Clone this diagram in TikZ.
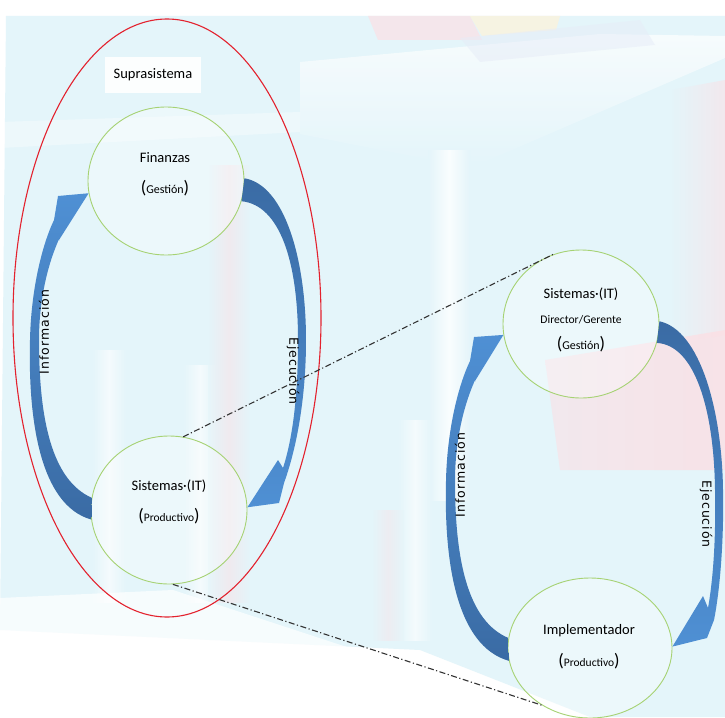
\documentclass[tikz,border=0pt]{standalone}
\usepackage{fontspec}
\setmainfont{Carlito}
\newfontfamily\lblfont{DejaVu Sans}[LetterSpace=8]
\usetikzlibrary{shapes.geometric}

\definecolor{sysgreen}{HTML}{A6D273}
\definecolor{supred}{HTML}{E3222E}
\definecolor{arrowlight}{HTML}{4F90D4}
\definecolor{arrowdark}{HTML}{3A6BA4}
\definecolor{bgcyan}{HTML}{E4F5FA}
\definecolor{bgpink}{HTML}{FBE0E5}
\definecolor{bgyellow}{HTML}{FBF3DC}
\definecolor{bglav}{HTML}{E6ECF8}
\definecolor{linegray}{HTML}{333333}

% enlarged round brackets around a smaller word
\newcommand\prn[1]{{\fontsize{18}{18}\selectfont(}#1{\fontsize{18}{18}\selectfont)}}

\begin{document}
\begin{tikzpicture}[x=1pt,y=-1pt,
  sys/.style={ellipse, draw=sysgreen, line width=0.9pt, fill=white, fill opacity=0.3,
    text opacity=1, minimum width=156pt, minimum height=148pt, inner sep=0pt},
  supra/.style={ellipse, draw=supred, line width=1.1pt, minimum width=308pt,
    minimum height=598pt, inner sep=0pt},
  maintxt/.style={anchor=base, font=\fontsize{14.5}{16}\selectfont},
  subtxt/.style={anchor=base, font=\fontsize{12}{14}\selectfont},
  lbl/.style={font=\lblfont\fontsize{12.5}{14}\selectfont, inner sep=0pt},
  upflow/.style={top color=arrowlight, bottom color=arrowdark},
  downflow/.style={top color=arrowdark, bottom color=arrowlight},
  link/.style={draw=linegray, line width=1.1pt,
    dash pattern=on 6pt off 2.5pt on 1.2pt off 2.5pt},
  softbar/.style={left color=bgcyan, right color=bgcyan, middle color=#1}
]
\useasboundingbox (0,0) rectangle (725,717);

% ---- faded backdrop: a box with bar charts ----
\fill[white] (0,0) rectangle (725,717);
\fill[bgcyan] (6,16) -- (725,16) -- (725,717) -- (590,717) -- (420,650) -- (0,630) -- cycle;
\fill[white, opacity=0.35] (0,122) -- (300,112) -- (300,132) -- (0,148) -- cycle;
\shade[top color=white, bottom color=bgcyan, opacity=0.7]
  (300,62) -- (600,34) -- (725,36) -- (725,58) -- (470,168) -- (432,160) -- (300,134) -- cycle;
\fill[bgpink, opacity=0.7] (368,16) -- (470,16) -- (482,40) -- (378,40) -- cycle;
\fill[bgyellow, opacity=0.8] (470,16) -- (560,16) -- (556,30) -- (482,36) -- cycle;
\fill[bglav, opacity=0.5] (460,38) -- (640,20) -- (655,45) -- (480,62) -- cycle;
\shade[left color=bgcyan, right color=bgpink, opacity=0.6] (670,90) -- (725,80) -- (725,335) -- (670,345) -- cycle;
\shade[left color=bgpink!70!bgcyan, right color=bgpink, opacity=0.85] (545,360) -- (725,330) -- (725,470) -- (560,470) -- cycle;
\shade[softbar=white, opacity=0.8] (428,150) rectangle (470,500);
\shade[softbar=white, opacity=0.6] (92,350) rectangle (126,602);
\shade[softbar=white, opacity=0.6] (183,365) rectangle (217,602);
\shade[softbar=white, opacity=0.6] (398,420) rectangle (432,640);
\shade[softbar=bgpink, opacity=0.5] (208,165) rectangle (250,602);
\shade[softbar=bgpink, opacity=0.4] (372,510) rectangle (404,640);
\fill[white, opacity=0.7] (0,598) -- (173,590) -- (560,717) -- (0,717) -- cycle;

% ---- enclosing system and its label ----
\node[supra] (supra) at (167,318) {};
\node[fill=white, fill opacity=0.9, text opacity=1, minimum width=96pt, minimum height=36pt,
  font=\fontsize{14.5}{16}\selectfont] (supratxt) at (153,75) {Suprasistema};

% ---- subsystems ----
\node[sys] (fin)  at (166,181) {};
\node[sys] (prod) at (169,510) {};
\node[sys] (dir)  at (581,324) {};
\node[sys, minimum width=164pt, minimum height=140pt] (impl) at (590,648) {};

\node[maintxt] (fin1) at (165,162) {Finanzas};
\node[subtxt]  (fin2) at (165,193) {\prn{Gestión}};
\node[maintxt] (prod1) at (169,490) {Sistemas·(IT)};
\node[subtxt, font=\fontsize{11.5}{14}\selectfont] (prod2) at (169,521) {\prn{Productivo}};
\node[maintxt] (dir1) at (581,298) {Sistemas·(IT)};
\node[subtxt, font=\fontsize{11.6}{14}\selectfont] (dir2) at (581,323) {Director/Gerente};
\node[subtxt]  (dir3) at (581,349) {\prn{Gestión}};
\node[maintxt] (impl1) at (589,634) {Implementador};
\node[subtxt, font=\fontsize{11.5}{14}\selectfont] (impl2) at (589,666) {\prn{Productivo}};

% ---- curved block arrows, left cycle ----
\path[upflow] (prod.187) .. controls (40,505) and (28,420) .. (30,340)
  .. controls (31,290) and (42,245) .. (54,220)
  -- (58,196) -- (fin.189) -- (59,240) -- (64,229)
  .. controls (50,255) and (39,295) .. (39,340)
  .. controls (39,420) and (52,480) .. (prod.171) -- cycle;
\path[downflow] (fin.2) .. controls (285,185) and (306,260) .. (306,340)
  .. controls (306,400) and (296,450) .. (284,483)
  -- (279,503) -- (prod.2) -- (278,460) -- (283,468)
  .. controls (292,440) and (298,400) .. (298,340)
  .. controls (298,262) and (280,205) .. (fin.345) -- cycle;

% ---- curved block arrows, right cycle ----
\path[upflow] (impl.189) .. controls (456,646) and (444,561) .. (446,481)
  .. controls (447,431) and (458,386) .. (470,361)
  -- (474,337) -- (dir.188) -- (475,381) -- (480,370)
  .. controls (466,396) and (455,436) .. (455,481)
  .. controls (455,561) and (468,621) .. (impl.173) -- cycle;
\path[downflow] (dir.2) .. controls (700,330) and (722,410) .. (723,490)
  .. controls (724,540) and (720,590) .. (714,620)
  -- (707,638) -- (impl.1) -- (703,596) -- (708,608)
  .. controls (713,580) and (716,540) .. (715,490)
  .. controls (714,410) and (695,345) .. (dir.346) -- cycle;

% ---- arrow captions ----
\node[lbl, rotate=90]  (infoL) at (44,332)  {Información};
\node[lbl, rotate=-90] (ejeL)  at (293,371) {Ejecución};
\node[lbl, rotate=90]  (infoR) at (460,475) {Información};
\node[lbl, rotate=-90] (ejeR)  at (706,514) {Ejecución};

% ---- zoom links from the productive subsystem to the detailed cycle ----
\draw[link] (prod.79) -- (dir.112);
\draw[link] (prod.273) -- (impl.230);
\end{tikzpicture}
\end{document}
